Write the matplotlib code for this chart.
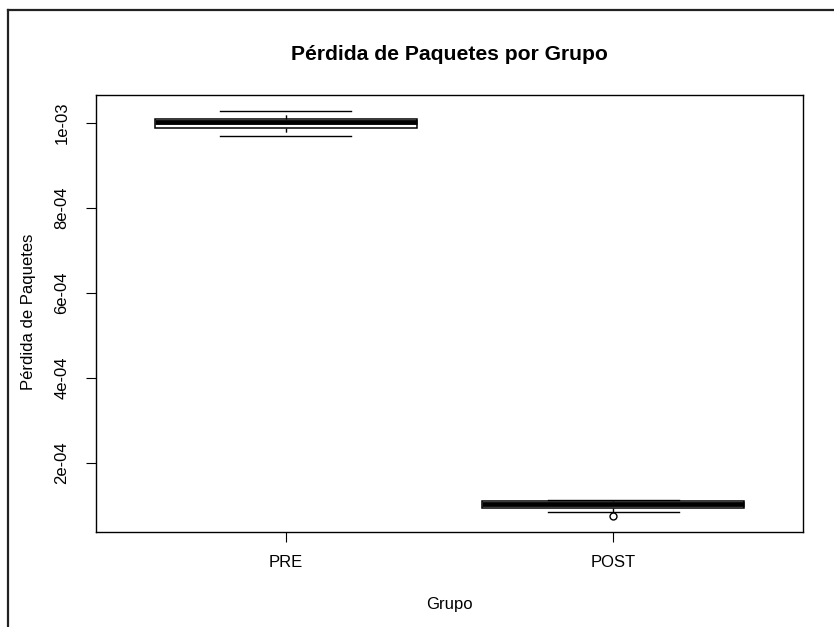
import matplotlib
matplotlib.use("Agg")
import matplotlib.pyplot as plt
from matplotlib.lines import Line2D

plt.rcParams['font.family'] = ['Liberation Sans', 'DejaVu Sans']

# Packet-loss summary per group
groups = ["PRE", "POST"]
medians = [1.0010e-3, 1.035e-4]
q1 = [0.9882e-3, 0.941e-4]
q3 = [1.0071e-3, 1.099e-4]
whisker_low = [0.9685e-3, 0.863e-4]
whisker_high = [1.0266e-3, 1.139e-4]
outliers = [[], [0.762e-4]]

yticks = [2e-4, 4e-4, 6e-4, 8e-4, 1e-3]
ytick_labels = ["2e-04", "4e-04", "6e-04", "8e-04", "1e-03"]

W, H = 834, 627
fig = plt.figure(figsize=(W / 100, H / 100), dpi=100)
ax = fig.add_axes([96 / W, 1 - 532 / H, 707 / W, 437 / H])

stats = []
for i, g in enumerate(groups):
    stats.append(dict(label=g, med=medians[i], q1=q1[i], q3=q3[i],
                      whislo=whisker_low[i], whishi=whisker_high[i],
                      fliers=outliers[i]))

ax.bxp(stats, positions=[1, 2], widths=0.8, showfliers=True,
       patch_artist=True,
       boxprops=dict(facecolor="white", edgecolor="black", linewidth=1.1),
       medianprops=dict(color="black", linewidth=3.5, solid_capstyle="butt"),
       whiskerprops=dict(color="black", linewidth=1.0, linestyle=(0, (3, 3))),
       capprops=dict(color="black", linewidth=1.0),
       capwidths=0.4,
       flierprops=dict(marker="o", markerfacecolor="white",
                       markeredgecolor="black", markersize=5,
                       markeredgewidth=1.0))

# R-style 4% padding around the data range
lo = min(min(whisker_low), min(min(o) for o in outliers if o))
hi = max(whisker_high)
pad = 0.04 * (hi - lo)
ax.set_ylim(lo - pad, hi + pad)
ax.set_xlim(0.42, 2.58)

ax.set_yticks(yticks)
ax.set_yticklabels(ytick_labels, rotation=90, va="center", fontsize=12)
ax.set_xticks([1, 2])
ax.set_xticklabels(groups, fontsize=12)
ax.tick_params(axis="x", direction="out", length=7, width=0.8, pad=9.5)
ax.tick_params(axis="y", direction="out", length=7, width=0.8, pad=12)
for s in ax.spines.values():
    s.set_linewidth(1.0)

cx = (96 + 803) / 2 / W
fig.text(cx, 1 - 55 / H, "Pérdida de Paquetes por Grupo", fontsize=15.2,
         fontweight="bold", ha="center", va="center")
fig.text(cx, 1 - 604 / H, "Grupo", fontsize=12, ha="center", va="center")
fig.text(29 / W, 1 - 312 / H, "Pérdida de Paquetes", fontsize=12,
         rotation=90, ha="center", va="center")

# window frame along the top and left edges
fig.add_artist(Line2D([7.5 / W, 1.0], [1 - 10 / H, 1 - 10 / H],
                      transform=fig.transFigure, color="#222222", linewidth=1.6))
fig.add_artist(Line2D([7.5 / W, 7.5 / W], [0.0, 1 - 10 / H],
                      transform=fig.transFigure, color="#222222", linewidth=1.6))

fig.savefig("out.png", dpi=100)
